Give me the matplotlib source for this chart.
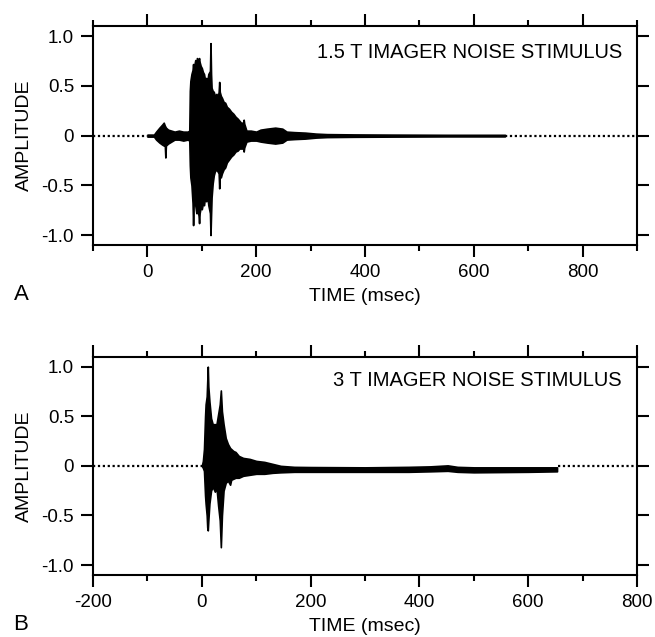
import numpy as np
import matplotlib
matplotlib.use("Agg")
import matplotlib.pyplot as plt

plt.rcParams['font.family'] = ['Liberation Sans', 'DejaVu Sans']
plt.rcParams['axes.unicode_minus'] = False

# --- panel A: 1.5 T imager noise, envelope (msec, upper, lower)
t_a = [0, 12, 16, 22, 27, 30, 32, 33, 34, 38, 44, 50, 58, 66, 74, 77,
       78, 79, 81, 83, 84, 85, 86, 88, 90, 91, 94, 95, 96, 98, 100, 102, 104,
       106, 108, 110, 112, 115, 116, 117, 118, 120, 122, 124, 127, 129, 131,
       132, 133, 135, 137, 140, 143, 146, 150, 154, 158, 162, 166, 169, 172,
       176, 177, 178, 182, 190, 200, 208, 220, 235, 248, 256, 270, 290, 310,
       330, 380, 450, 550, 657]
up_a = [0.01, 0.01, 0.04, 0.08, 0.11, 0.13, 0.10, 0.09, 0.08, 0.06, 0.05, 0.04,
        0.05, 0.04, 0.04, 0.05, 0.45, 0.55, 0.62, 0.66, 0.72, 0.64, 0.70, 0.76,
        0.72, 0.78, 0.76, 0.78, 0.74, 0.70, 0.68, 0.64, 0.62, 0.56, 0.58, 0.54,
        0.62, 0.65, 0.93, 0.62, 0.48, 0.45, 0.44, 0.40, 0.42, 0.38, 0.44, 0.54,
        0.44, 0.40, 0.38, 0.34, 0.33, 0.29, 0.27, 0.24, 0.22, 0.19, 0.17, 0.15,
        0.13, 0.13, 0.16, 0.12, 0.05, 0.05, 0.04, 0.06, 0.07, 0.08, 0.07, 0.04,
        0.035, 0.03, 0.02, 0.015, 0.012, 0.01, 0.008, 0.008]
lo_a = [-0.01, -0.01, -0.04, -0.07, -0.09, -0.10, -0.10, -0.22, -0.10, -0.08,
        -0.06, -0.04, -0.04, -0.05, -0.04, -0.05, -0.30, -0.42, -0.50, -0.68,
        -0.90, -0.70, -0.64, -0.70, -0.78, -0.75, -0.80, -0.88, -0.78, -0.72,
        -0.74, -0.68, -0.70, -0.62, -0.66, -0.60, -0.70, -0.78, -1.00, -0.80,
        -0.62, -0.48, -0.40, -0.36, -0.34, -0.36, -0.38, -0.53, -0.40, -0.42,
        -0.38, -0.34, -0.32, -0.27, -0.24, -0.21, -0.19, -0.16, -0.15, -0.13,
        -0.13, -0.13, -0.16, -0.12, -0.06, -0.05, -0.05, -0.06, -0.07, -0.08,
        -0.07, -0.04, -0.035, -0.03, -0.02, -0.015, -0.012, -0.01, -0.008, -0.008]
quiet_a = [(-100, 0), (657, 900)]

# --- panel B: 3 T imager noise
t_b = [0, 2, 4, 6, 7, 9, 10, 11, 12, 14, 17, 20, 24, 27, 30, 33, 35, 37, 40,
       44, 48, 52, 54, 58, 62, 68, 76, 88, 100, 115, 130, 145, 170, 200, 300,
       380, 420, 452, 470, 500, 600, 653]
up_b = [0.00, 0.05, 0.17, 0.50, 0.62, 0.70, 0.85, 1.00, 0.80, 0.65, 0.48, 0.42,
        0.42, 0.42, 0.52, 0.62, 0.76, 0.55, 0.42, 0.28, 0.22, 0.18, 0.17, 0.15,
        0.14, 0.10, 0.08, 0.07, 0.05, 0.04, 0.02, 0.00, -0.01, -0.012, -0.015,
        -0.01, -0.005, 0.005, -0.01, -0.015, -0.015, -0.015]
lo_b = [0.00, -0.02, -0.05, -0.30, -0.38, -0.50, -0.62, -0.65, -0.55, -0.38,
        -0.25, -0.21, -0.26, -0.22, -0.40, -0.55, -0.82, -0.50, -0.25, -0.17,
        -0.15, -0.19, -0.14, -0.13, -0.12, -0.12, -0.10, -0.09, -0.08, -0.08,
        -0.07, -0.065, -0.06, -0.06, -0.06, -0.06, -0.055, -0.05, -0.06, -0.065,
        -0.06, -0.055]
quiet_b = [(-200, 0), (655, 800)]

y_ticks = [-1.0, -0.5, 0, 0.5, 1.0]
y_labels = ['-1.0', '-0.5', '0', '0.5', '1.0']

panels = [
    dict(t=t_a, up=up_a, lo=lo_a, quiet=quiet_a, xlim=(-100, 900),
         xticks=[0, 200, 400, 600, 800], minor=(-100, 900),
         title='1.5 T IMAGER NOISE STIMULUS', letter='A',
         rect=[0.142, 0.6154, 0.8305, 0.3434], title_y=0.88, letter_y=294),
    dict(t=t_b, up=up_b, lo=lo_b, quiet=quiet_b, xlim=(-200, 800),
         xticks=[-200, 0, 200, 400, 600, 800], minor=(-100, 700),
         title='3 T IMAGER NOISE STIMULUS', letter='B',
         rect=[0.142, 0.0973, 0.8305, 0.3427], title_y=0.893, letter_y=625),
]

fig = plt.figure(figsize=(6.55, 6.37), dpi=100)

for p in panels:
    ax = fig.add_axes(p['rect'])
    ax.fill_between(p['t'], p['lo'], p['up'], color='black',
                    edgecolor='black', linewidth=1.2)
    for x0, x1 in p['quiet']:
        ax.plot([x0, x1], [0, 0], color='black', linestyle=(0, (1, 1.2)), lw=1.6)

    ax.set_xlim(*p['xlim'])
    ax.set_ylim(-1.1, 1.1)
    ax.set_xticks(p['xticks'])
    ax.set_xticklabels([str(v) for v in p['xticks']])
    ax.set_xticks(list(range(p['minor'][0], p['minor'][1] + 1, 200)), minor=True)
    ax.set_yticks(y_ticks)
    ax.set_yticklabels(y_labels)

    ax.tick_params(which='both', direction='out', top=True, right=True,
                   width=1.5, labelsize=13.5, pad=5)
    ax.tick_params(which='major', length=8.6)
    ax.tick_params(which='minor', length=4.3)
    for s in ax.spines.values():
        s.set_linewidth(1.5)

    ax.set_xlabel('TIME (msec)', fontsize=14, labelpad=5)
    ax.set_ylabel('AMPLITUDE', fontsize=14, labelpad=6)
    ax.text(0.972, p['title_y'], p['title'], transform=ax.transAxes,
            ha='right', va='center', fontsize=14.5)
    fig.text(21 / 655, 1 - p['letter_y'] / 637, p['letter'], ha='center',
             va='center', fontsize=16)

fig.savefig('out.png', dpi=100)
